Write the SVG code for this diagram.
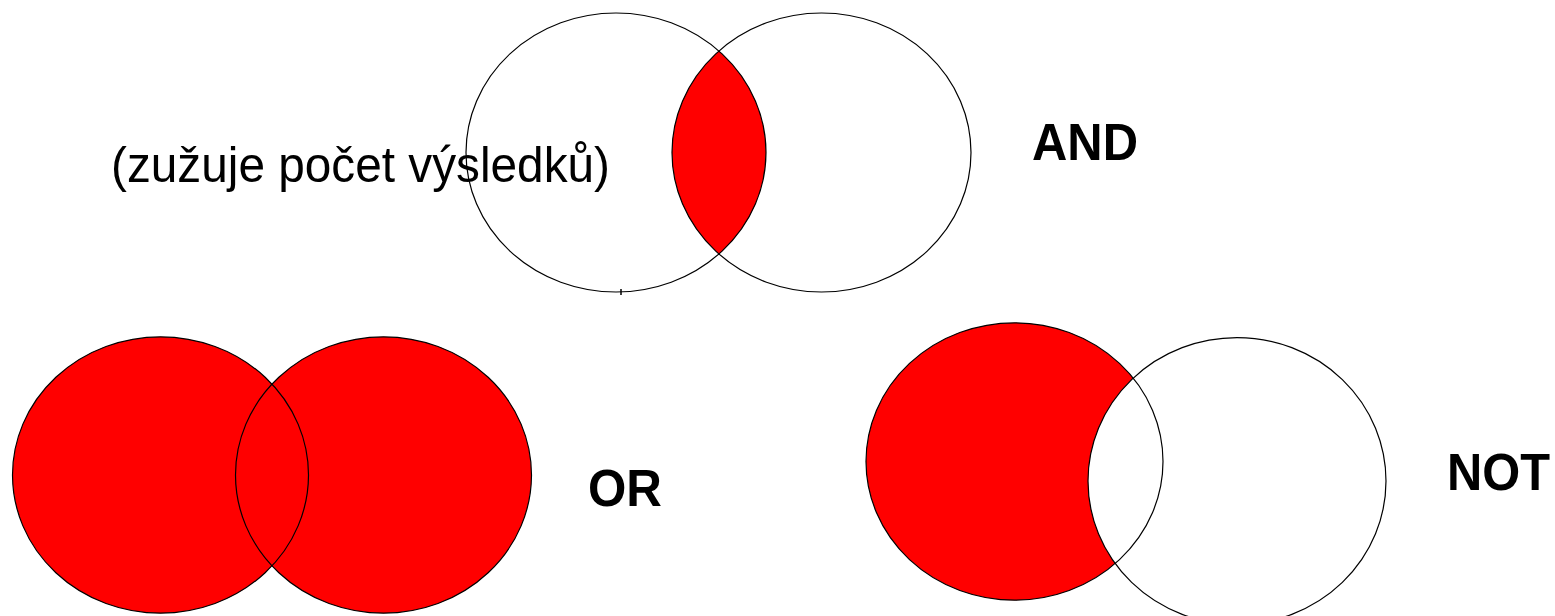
<svg xmlns="http://www.w3.org/2000/svg" width="1555" height="616" viewBox="0 0 1555 616">
  <style>
    .ol { fill: none; stroke: #000; stroke-width: 1.2; }
    .red { fill: #ff0000; }
    .wh { fill: #ffffff; }
    .lbl { font-family: "Liberation Sans", Arial, sans-serif; font-weight: bold; fill: #000; }
    .note { font-family: "Liberation Sans", Arial, sans-serif; fill: #000; }
  </style>
  <defs>
    <clipPath id="andClip">
      <ellipse cx="821.5" cy="152.5" rx="149.5" ry="139.5"/>
    </clipPath>
  </defs>
  <rect x="0" y="0" width="1555" height="616" fill="#ffffff"/>

  <g id="and-diagram">
    <ellipse class="red" cx="616" cy="152.5" rx="150" ry="139.5" clip-path="url(#andClip)"/>
    <ellipse class="ol" cx="616" cy="152.5" rx="150" ry="139.5"/>
    <ellipse class="ol" cx="821.5" cy="152.5" rx="149.5" ry="139.5"/>
    <path d="M621 289 L621 295" stroke="#000" stroke-width="1.5"/>
  </g>

  <g id="or-diagram">
    <ellipse class="red" cx="160.5" cy="475" rx="148" ry="138.2"/>
    <ellipse class="red" cx="383.5" cy="475" rx="148" ry="138.2"/>
    <ellipse class="ol" cx="160.5" cy="475" rx="148" ry="138.2"/>
    <ellipse class="ol" cx="383.5" cy="475" rx="148" ry="138.2"/>
  </g>

  <g id="not-diagram">
    <ellipse class="red" cx="1014.5" cy="461.5" rx="148.5" ry="138.7"/>
    <ellipse class="wh" cx="1237" cy="481" rx="149" ry="143.4"/>
    <ellipse class="ol" cx="1014.5" cy="461.5" rx="148.5" ry="138.7"/>
    <ellipse class="ol" cx="1237" cy="481" rx="149" ry="143.4"/>
  </g>

  <g id="note">
    <text class="note" x="111" y="182" font-size="50" textLength="499" lengthAdjust="spacingAndGlyphs">(zužuje počet výsledků)</text>
  </g>
  <g id="label-and">
    <text class="lbl" x="1032" y="160" font-size="52" textLength="106" lengthAdjust="spacingAndGlyphs">AND</text>
  </g>
  <g id="label-or">
    <text class="lbl" x="588" y="506" font-size="52" textLength="74" lengthAdjust="spacingAndGlyphs">OR</text>
  </g>
  <g id="label-not">
    <text class="lbl" x="1447" y="490" font-size="52" textLength="103" lengthAdjust="spacingAndGlyphs">NOT</text>
  </g>
</svg>
